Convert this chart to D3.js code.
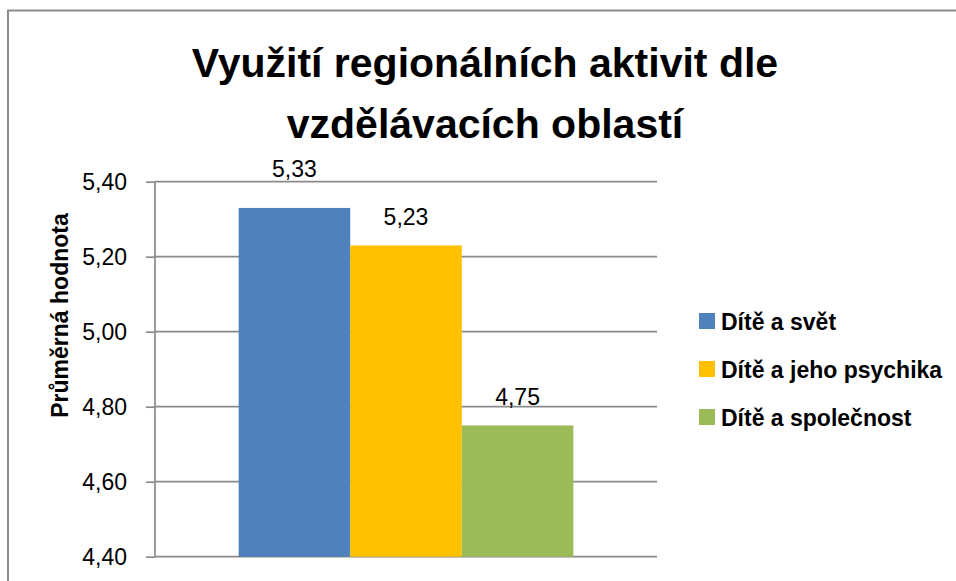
<!DOCTYPE html>
<html>
<head>
<meta charset="utf-8">
<script src="https://cdn.jsdelivr.net/npm/d3@7/dist/d3.min.js"></script>
<style>
  html, body { margin: 0; padding: 0; background: #fff; }
  svg { display: block; font-family: "Liberation Sans", Arial, sans-serif; }
</style>
</head>
<body>
<div id="chart"></div>
<script>
// chart data
var titleLines = ["Využití regionálních aktivit dle", "vzdělávacích oblastí"];
var yTitle = "Průměrná hodnota";
var category = ["Vzdělávací oblasti"];
var seriesNames = ["Dítě a svět", "Dítě a jeho psychika", "Dítě a společnost"];
var seriesValues = [5.33, 5.23, 4.75];
var seriesColors = ["#4F81BD", "#FFC000", "#9BBB59"];
var yTicks = [4.4, 4.6, 4.8, 5.0, 5.2, 5.4];

var svgWidth = 956;
var svgHeight = 581;

// plot area inside the chart frame
var plot = { left: 155, right: 657, top: 181.7, bottom: 556.7 };

var gridColor = "#8a8a8a";

// czech number format, comma as decimal mark
var cz = d3.formatLocale({ decimal: ",", thousands: " ", grouping: [3], currency: ["", " Kč"] });
var fmt = cz.format(".2f");

var svg = d3.select("#chart")
  .append("svg")
  .attr("width", svgWidth)
  .attr("height", svgHeight);

svg.append("rect")
  .attr("width", svgWidth)
  .attr("height", svgHeight)
  .attr("fill", "#fff");

// outer chart border (runs off the right and bottom edge)
svg.append("rect")
  .attr("x", 8)
  .attr("y", 10.5)
  .attr("width", 1000)
  .attr("height", 700)
  .attr("fill", "none")
  .attr("stroke", "#8c8c8c")
  .attr("stroke-width", 2);

// title
svg.append("g")
  .selectAll("text")
  .data(titleLines)
  .enter()
  .append("text")
  .attr("x", 485)
  .attr("y", (d, i) => 77 + i * 61)
  .attr("text-anchor", "middle")
  .attr("font-size", 41)
  .attr("font-weight", "bold")
  .attr("fill", "#000")
  .text(d => d);

// scales
var yScale = d3.scaleLinear()
  .domain([4.4, 5.4])
  .range([plot.bottom, plot.top]);

var xScale = d3.scaleBand()
  .domain(category)
  .range([plot.left, plot.right])
  .paddingInner(0)
  .paddingOuter(0.25);

var xInner = d3.scaleBand()
  .domain(seriesNames)
  .range([0, xScale.bandwidth()]);

// gridlines
svg.append("g")
  .selectAll("line")
  .data(yTicks)
  .enter()
  .append("line")
  .attr("x1", plot.left)
  .attr("x2", plot.right)
  .attr("y1", d => yScale(d))
  .attr("y2", d => yScale(d))
  .attr("stroke", gridColor)
  .attr("stroke-width", 1.7);

// y axis
var leftAxis = d3.axisLeft(yScale)
  .tickValues(yTicks)
  .tickFormat(fmt)
  .tickSize(9)
  .tickPadding(19);

var yAxis = svg.append("g")
  .attr("transform", `translate(${plot.left}, 0)`)
  .call(leftAxis);

yAxis.select(".domain").remove();
yAxis.selectAll(".tick line")
  .attr("stroke", gridColor)
  .attr("stroke-width", 1.7);
yAxis.selectAll(".tick text")
  .attr("font-family", "Liberation Sans, Arial, sans-serif")
  .attr("font-size", 23)
  .attr("fill", "#000")
  .attr("dy", "0.36em");

svg.append("line")
  .attr("x1", plot.left)
  .attr("x2", plot.left)
  .attr("y1", plot.top)
  .attr("y2", plot.bottom)
  .attr("stroke", gridColor)
  .attr("stroke-width", 1.7);

// y axis title
svg.append("text")
  .attr("transform", `translate(68, 315.5) rotate(-90)`)
  .attr("text-anchor", "middle")
  .attr("font-size", 23)
  .attr("font-weight", "bold")
  .attr("fill", "#000")
  .text(yTitle);

// bars
var bars = svg.append("g")
  .attr("transform", `translate(${xScale(category[0])}, 0)`);

bars.selectAll("rect")
  .data(seriesValues)
  .enter()
  .append("rect")
  .attr("x", (d, i) => xInner(seriesNames[i]))
  .attr("y", d => yScale(d))
  .attr("width", xInner.bandwidth())
  .attr("height", d => plot.bottom - yScale(d))
  .attr("fill", (d, i) => seriesColors[i]);

// data labels (first one sits a bit higher, like in the original)
bars.selectAll("text")
  .data(seriesValues)
  .enter()
  .append("text")
  .attr("x", (d, i) => xInner(seriesNames[i]) + xInner.bandwidth() / 2)
  .attr("y", (d, i) => yScale(d) - 20 - (i === 0 ? 11 : 0))
  .attr("text-anchor", "middle")
  .attr("font-size", 23)
  .attr("fill", "#000")
  .text(d => fmt(d));

// legend
var legend = svg.append("g")
  .attr("transform", "translate(699, 313)");

var legendItems = legend.selectAll("g")
  .data(seriesNames)
  .enter()
  .append("g")
  .attr("transform", (d, i) => `translate(0, ${i * 48})`);

legendItems.append("rect")
  .attr("width", 16)
  .attr("height", 16)
  .attr("fill", (d, i) => seriesColors[i]);

legendItems.append("text")
  .attr("x", 22)
  .attr("y", 16.5)
  .attr("font-size", 23)
  .attr("font-weight", "bold")
  .attr("fill", "#000")
  .text(d => d);
</script>
</body>
</html>
